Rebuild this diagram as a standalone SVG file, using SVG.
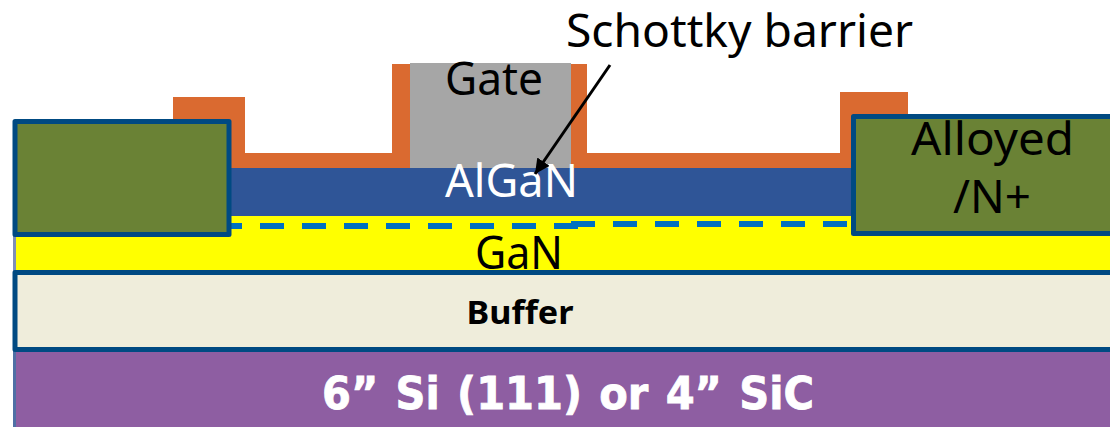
<svg xmlns="http://www.w3.org/2000/svg" width="1110" height="427" viewBox="0 0 1110 427">
<style>
text{font-family:"Noto Sans","Open Sans","DejaVu Sans",sans-serif;fill:#000;text-anchor:middle}
.big{font-size:46px}
.pad{fill:#6A8235;stroke:#004A82;stroke-width:5;stroke-linejoin:round}
.o{fill:#DA6A30}
.dash{stroke:#0070C0;stroke-width:6;stroke-dasharray:24 18;fill:none}
</style>
<defs><marker id="ah" markerUnits="userSpaceOnUse" markerWidth="20" markerHeight="20" refX="15" refY="7.5" orient="auto"><path d="M0 0L15 7.5L0 15Z" fill="#000"/></marker></defs>
<g id="substrate"><rect x="13" y="350" width="3" height="77" fill="#4F6FA5"/><rect x="16" y="350" width="1094" height="77" fill="#8E5EA2"/><text x="568" y="409" font-size="44" font-weight="700" style="fill:#fff;stroke:#fff;stroke-width:.8;font-family:'DejaVu Sans',sans-serif;word-spacing:3px" textLength="492" lengthAdjust="spacingAndGlyphs">6” Si (111) or 4” SiC</text></g>
<g id="gan"><rect x="13" y="216" width="3" height="56" fill="#7F8FB5"/><rect x="16" y="216" width="1094" height="55" fill="#FFFF00"/></g>
<g id="buffer"><rect x="15" y="272.5" width="1100" height="77" fill="#EFEDDB" stroke="#004A82" stroke-width="5" stroke-linejoin="round"/><text x="520" y="324" font-size="33" font-weight="700" textLength="107" lengthAdjust="spacingAndGlyphs">Buffer</text></g>
<g id="passivation"><path class="o" d="M173 97H245V153H392V64H587V153H840V92H908V168H173Z"/></g>
<g id="algan"><rect x="229" y="168" width="625" height="48" fill="#2F5597"/></g>
<g id="gate"><rect x="410" y="63" width="161" height="105" fill="#A6A6A6"/><text class="big" x="494" y="95" textLength="98" lengthAdjust="spacingAndGlyphs">Gate</text></g>
<g id="channel"><path class="dash" d="M218 226H578"/><path class="dash" d="M571 224H847"/></g>
<g id="source"><rect class="pad" x="15" y="121.5" width="214" height="113"/></g>
<g id="drain"><rect class="pad" x="853.5" y="116.5" width="262" height="117"/><text class="big" x="992.5" y="155" textLength="163" lengthAdjust="spacingAndGlyphs">Alloyed</text><text class="big" x="992" y="213" textLength="78" lengthAdjust="spacingAndGlyphs">/N+</text></g>
<g id="labels"><text class="big" x="511.5" y="197" style="fill:#fff" textLength="133" lengthAdjust="spacingAndGlyphs">AlGaN</text><text class="big" x="519" y="269" textLength="88" lengthAdjust="spacingAndGlyphs">GaN</text><text class="big" x="739.5" y="47" textLength="347" lengthAdjust="spacingAndGlyphs">Schottky barrier</text></g>
<g id="connectors"><line x1="610" y1="65" x2="535" y2="174" stroke="#000" stroke-width="3" marker-end="url(#ah)"/></g>
</svg>
